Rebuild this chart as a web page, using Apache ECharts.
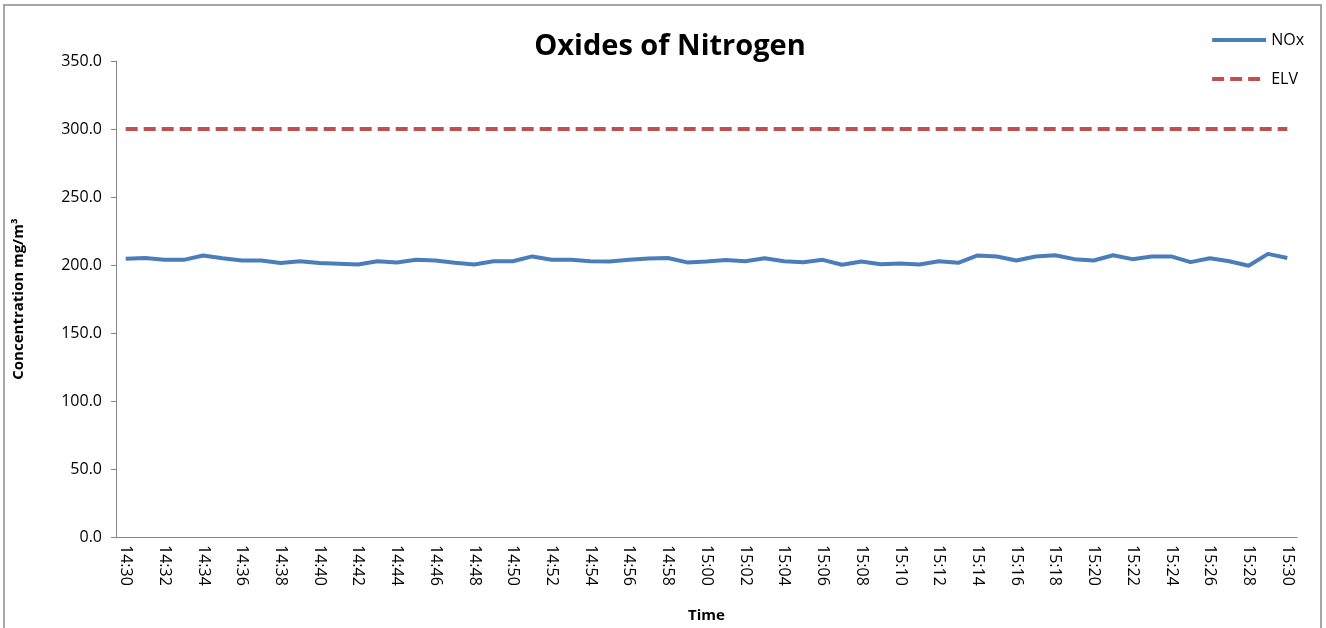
<!DOCTYPE html>
<html>
<head>
<meta charset="utf-8">
<title>Oxides of Nitrogen</title>
<script src="https://cdn.jsdelivr.net/npm/echarts@6/dist/echarts.min.js"></script>
<style>
  html, body { margin: 0; padding: 0; background: #fff; }
  #main { width: 1326px; height: 628px; }
</style>
</head>
<body>
<div id="main"></div>
<script>
// time labels, one per minute
var times = [
  '14:30', '14:31', '14:32', '14:33', '14:34', '14:35', '14:36', '14:37', '14:38', '14:39',
  '14:40', '14:41', '14:42', '14:43', '14:44', '14:45', '14:46', '14:47', '14:48', '14:49',
  '14:50', '14:51', '14:52', '14:53', '14:54', '14:55', '14:56', '14:57', '14:58', '14:59',
  '15:00', '15:01', '15:02', '15:03', '15:04', '15:05', '15:06', '15:07', '15:08', '15:09',
  '15:10', '15:11', '15:12', '15:13', '15:14', '15:15', '15:16', '15:17', '15:18', '15:19',
  '15:20', '15:21', '15:22', '15:23', '15:24', '15:25', '15:26', '15:27', '15:28', '15:29',
  '15:30'
];

// NOx concentration (mg/m3)
var noxValues = [
  204.6, 205.2, 203.8, 203.8, 207.0, 205.0, 203.3, 203.3, 201.4, 202.8,
  201.4, 200.9, 200.4, 202.8, 201.9, 203.8, 203.3, 201.6, 200.4, 202.8,
  202.8, 206.3, 203.8, 203.8, 202.8, 202.6, 203.8, 204.8, 205.2, 201.9,
  202.6, 203.6, 202.8, 205.0, 202.8, 202.1, 203.8, 200.2, 202.6, 200.6,
  201.1, 200.4, 202.8, 201.6, 207.0, 206.3, 203.3, 206.3, 207.2, 204.3,
  203.3, 207.2, 204.3, 206.3, 206.3, 202.1, 205.0, 202.8, 199.4, 208.2,
  205.2
];

// emission limit value
var elvValues = [
  300, 300, 300, 300, 300, 300, 300, 300, 300, 300,
  300, 300, 300, 300, 300, 300, 300, 300, 300, 300,
  300, 300, 300, 300, 300, 300, 300, 300, 300, 300,
  300, 300, 300, 300, 300, 300, 300, 300, 300, 300,
  300, 300, 300, 300, 300, 300, 300, 300, 300, 300,
  300, 300, 300, 300, 300, 300, 300, 300, 300, 300,
  300
];

var chart = echarts.init(document.getElementById('main'));

var axisColor = '#868686';
var font = '"Open Sans", "Liberation Sans", sans-serif';

var option = {
  animation: false,
  textStyle: { fontFamily: font },
  title: {
    text: 'Oxides of Nitrogen',
    left: 665,
    textAlign: 'center',
    top: 27,
    textStyle: { fontSize: 29, fontWeight: 'bold', color: '#000', fontFamily: font }
  },
  graphic: [{
    type: 'rect',
    shape: { x: 4, y: 5, width: 1317, height: 660 },
    style: { fill: 'none', stroke: '#a6a6a6', lineWidth: 2 },
    silent: true
  }],
  legend: {
    orient: 'vertical',
    right: 17,
    top: 27,
    itemWidth: 54,
    itemHeight: 14,
    itemGap: 23,
    itemStyle: { opacity: 0 },
    lineStyle: { width: 4 },
    textStyle: { fontSize: 16, color: '#000' },
    data: ['NOx', 'ELV']
  },
  grid: {
    left: 116,
    right: 29,
    top: 61,
    bottom: 91,
    outerBoundsMode: 'none'
  },
  xAxis: {
    type: 'category',
    data: times,
    boundaryGap: true,
    name: 'Time',
    nameLocation: 'middle',
    nameGap: 71,
    nameTextStyle: { fontSize: 15, fontWeight: 'bold', color: '#000' },
    axisLine: { lineStyle: { color: axisColor, width: 1 } },
    axisTick: { interval: 0, length: 5, lineStyle: { color: axisColor } },
    axisLabel: {
      interval: 1,
      rotate: -90,
      fontSize: 16,
      color: '#000',
      margin: 8
    },
    splitLine: { show: false }
  },
  yAxis: {
    type: 'value',
    min: 0,
    max: 350,
    interval: 50,
    name: 'Concentration mg/m³',
    nameLocation: 'middle',
    nameGap: 90,
    nameTextStyle: { fontSize: 15, fontWeight: 'bold', color: '#000' },
    axisLine: { show: true, lineStyle: { color: axisColor, width: 1 } },
    axisTick: { show: true, length: 5, lineStyle: { color: axisColor } },
    axisLabel: {
      fontSize: 16,
      color: '#000',
      margin: 14,
      formatter: function (v) { return v.toFixed(1); }
    },
    splitLine: { show: false }
  },
  series: [
    {
      name: 'NOx',
      type: 'line',
      data: noxValues,
      symbol: 'none',
      lineStyle: { color: '#4a7ebb', width: 4 },
      itemStyle: { color: '#4a7ebb' }
    },
    {
      name: 'ELV',
      type: 'line',
      data: elvValues,
      symbol: 'none',
      lineStyle: { color: '#c0504d', width: 4, type: [12, 6] },
      itemStyle: { color: '#c0504d' }
    }
  ]
};

chart.setOption(option);
</script>
</body>
</html>
